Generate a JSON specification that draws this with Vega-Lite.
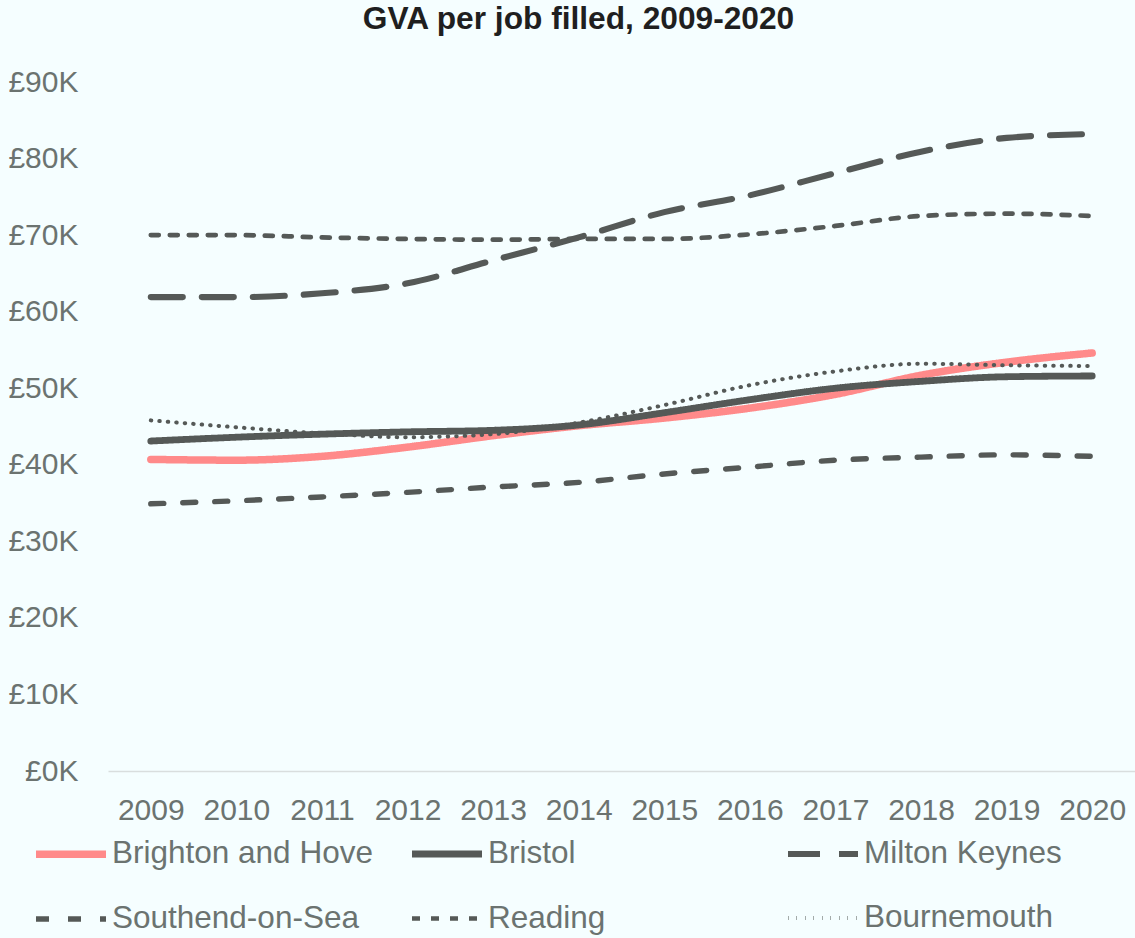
{
  "$schema": "https://vega.github.io/schema/vega-lite/v6.json",
  "autosize": {"type": "none"},
  "width": 1027,
  "height": 689,
  "padding": {"left": 108, "top": 82, "right": 0, "bottom": 167},
  "background": "#F5FEFF",
  "title": {
    "text": "GVA per job filled, 2009-2020",
    "font": "Liberation Sans",
    "fontSize": 31.7,
    "fontWeight": "bold",
    "color": "#1f1f1f",
    "anchor": "middle",
    "frame": "group",
    "dx": -43,
    "baseline": "alphabetic",
    "offset": 6
  },
  "config": {
    "view": {"stroke": null},
    "font": "Liberation Sans"
  },
  "data": {
    "values": [
      {"area": "Brighton and Hove", "year": "2009", "gva": 40700},
      {"area": "Brighton and Hove", "year": "2010", "gva": 40600},
      {"area": "Brighton and Hove", "year": "2011", "gva": 41100},
      {"area": "Brighton and Hove", "year": "2012", "gva": 42300},
      {"area": "Brighton and Hove", "year": "2013", "gva": 43800},
      {"area": "Brighton and Hove", "year": "2014", "gva": 45100},
      {"area": "Brighton and Hove", "year": "2015", "gva": 46100},
      {"area": "Brighton and Hove", "year": "2016", "gva": 47400},
      {"area": "Brighton and Hove", "year": "2017", "gva": 49200},
      {"area": "Brighton and Hove", "year": "2018", "gva": 51700},
      {"area": "Brighton and Hove", "year": "2019", "gva": 53400},
      {"area": "Brighton and Hove", "year": "2020", "gva": 54600},
      {"area": "Bristol", "year": "2009", "gva": 43100},
      {"area": "Bristol", "year": "2010", "gva": 43600},
      {"area": "Bristol", "year": "2011", "gva": 44000},
      {"area": "Bristol", "year": "2012", "gva": 44300},
      {"area": "Bristol", "year": "2013", "gva": 44500},
      {"area": "Bristol", "year": "2014", "gva": 45200},
      {"area": "Bristol", "year": "2015", "gva": 46800},
      {"area": "Bristol", "year": "2016", "gva": 48500},
      {"area": "Bristol", "year": "2017", "gva": 50000},
      {"area": "Bristol", "year": "2018", "gva": 50900},
      {"area": "Bristol", "year": "2019", "gva": 51500},
      {"area": "Bristol", "year": "2020", "gva": 51600},
      {"area": "Milton Keynes", "year": "2009", "gva": 61900},
      {"area": "Milton Keynes", "year": "2010", "gva": 61900},
      {"area": "Milton Keynes", "year": "2011", "gva": 62400},
      {"area": "Milton Keynes", "year": "2012", "gva": 63700},
      {"area": "Milton Keynes", "year": "2013", "gva": 66700},
      {"area": "Milton Keynes", "year": "2014", "gva": 69700},
      {"area": "Milton Keynes", "year": "2015", "gva": 73000},
      {"area": "Milton Keynes", "year": "2016", "gva": 75200},
      {"area": "Milton Keynes", "year": "2017", "gva": 78100},
      {"area": "Milton Keynes", "year": "2018", "gva": 80900},
      {"area": "Milton Keynes", "year": "2019", "gva": 82700},
      {"area": "Milton Keynes", "year": "2020", "gva": 83200},
      {"area": "Southend-on-Sea", "year": "2009", "gva": 34900},
      {"area": "Southend-on-Sea", "year": "2010", "gva": 35300},
      {"area": "Southend-on-Sea", "year": "2011", "gva": 35800},
      {"area": "Southend-on-Sea", "year": "2012", "gva": 36400},
      {"area": "Southend-on-Sea", "year": "2013", "gva": 37100},
      {"area": "Southend-on-Sea", "year": "2014", "gva": 37700},
      {"area": "Southend-on-Sea", "year": "2015", "gva": 38800},
      {"area": "Southend-on-Sea", "year": "2016", "gva": 39700},
      {"area": "Southend-on-Sea", "year": "2017", "gva": 40600},
      {"area": "Southend-on-Sea", "year": "2018", "gva": 41000},
      {"area": "Southend-on-Sea", "year": "2019", "gva": 41300},
      {"area": "Southend-on-Sea", "year": "2020", "gva": 41100},
      {"area": "Reading", "year": "2009", "gva": 70000},
      {"area": "Reading", "year": "2010", "gva": 70000},
      {"area": "Reading", "year": "2011", "gva": 69700},
      {"area": "Reading", "year": "2012", "gva": 69500},
      {"area": "Reading", "year": "2013", "gva": 69400},
      {"area": "Reading", "year": "2014", "gva": 69500},
      {"area": "Reading", "year": "2015", "gva": 69500},
      {"area": "Reading", "year": "2016", "gva": 70100},
      {"area": "Reading", "year": "2017", "gva": 71200},
      {"area": "Reading", "year": "2018", "gva": 72500},
      {"area": "Reading", "year": "2019", "gva": 72800},
      {"area": "Reading", "year": "2020", "gva": 72500},
      {"area": "Bournemouth", "year": "2009", "gva": 45800},
      {"area": "Bournemouth", "year": "2010", "gva": 44900},
      {"area": "Bournemouth", "year": "2011", "gva": 44100},
      {"area": "Bournemouth", "year": "2012", "gva": 43600},
      {"area": "Bournemouth", "year": "2013", "gva": 44000},
      {"area": "Bournemouth", "year": "2014", "gva": 45500},
      {"area": "Bournemouth", "year": "2015", "gva": 47800},
      {"area": "Bournemouth", "year": "2016", "gva": 50400},
      {"area": "Bournemouth", "year": "2017", "gva": 52200},
      {"area": "Bournemouth", "year": "2018", "gva": 53200},
      {"area": "Bournemouth", "year": "2019", "gva": 53000},
      {"area": "Bournemouth", "year": "2020", "gva": 52900}
    ]
  },
  "mark": {"type": "line", "interpolate": "monotone", "strokeCap": "round", "strokeJoin": "round"},
  "encoding": {
    "x": {
      "field": "year",
      "type": "ordinal",
      "scale": {"type": "point", "padding": 0.5},
      "axis": {
        "title": null,
        "labelAngle": 0,
        "labelFontSize": 30,
        "labelColor": "#6b7370",
        "labelFont": "Liberation Sans",
        "ticks": false,
        "labelPadding": 24,
        "domainColor": "#d9dede",
        "domainWidth": 1.5,
        "grid": false
      }
    },
    "y": {
      "field": "gva",
      "type": "quantitative",
      "scale": {"domain": [0, 90000], "nice": false},
      "axis": {
        "title": null,
        "values": [0, 10000, 20000, 30000, 40000, 50000, 60000, 70000, 80000, 90000],
        "labelExpr": "'£' + (datum.value / 1000) + 'K'",
        "labelFontSize": 30,
        "labelColor": "#6b7370",
        "labelFont": "Liberation Sans",
        "ticks": false,
        "domain": false,
        "grid": false,
        "labelPadding": 30
      }
    },
    "color": {
      "field": "area",
      "type": "nominal",
      "scale": {
        "domain": ["Brighton and Hove", "Bristol", "Milton Keynes", "Southend-on-Sea", "Reading", "Bournemouth"],
        "range": ["#FF8A8A", "#555957", "#555957", "#555957", "#555957", "#555957"]
      },
      "legend": {
        "title": null,
        "orient": "none",
        "legendX": -76,
        "legendY": 733,
        "direction": "horizontal",
        "columns": 3,
        "gridAlign": "all",
        "columnPadding": 25,
        "rowPadding": 11,
        "symbolType": "stroke",
        "symbolSize": 4900,
        "labelFontSize": 31.5,
        "labelFont": "Liberation Sans",
        "labelColor": "#6b7370",
        "labelOffset": 2,
        "labelLimit": 400
      }
    },
    "strokeDash": {
      "field": "area",
      "type": "nominal",
      "scale": {
        "domain": ["Brighton and Hove", "Bristol", "Milton Keynes", "Southend-on-Sea", "Reading", "Bournemouth"],
        "range": [[1, 0], [1, 0], [32, 19], [13, 19], [8, 11], [0.5, 8]]
      },
      "legend": null
    },
    "strokeWidth": {
      "field": "area",
      "type": "nominal",
      "scale": {
        "domain": ["Brighton and Hove", "Bristol", "Milton Keynes", "Southend-on-Sea", "Reading", "Bournemouth"],
        "range": [7.5, 4, 4, 4, 4, 3]
      },
      "legend": null
    }
  }
}
